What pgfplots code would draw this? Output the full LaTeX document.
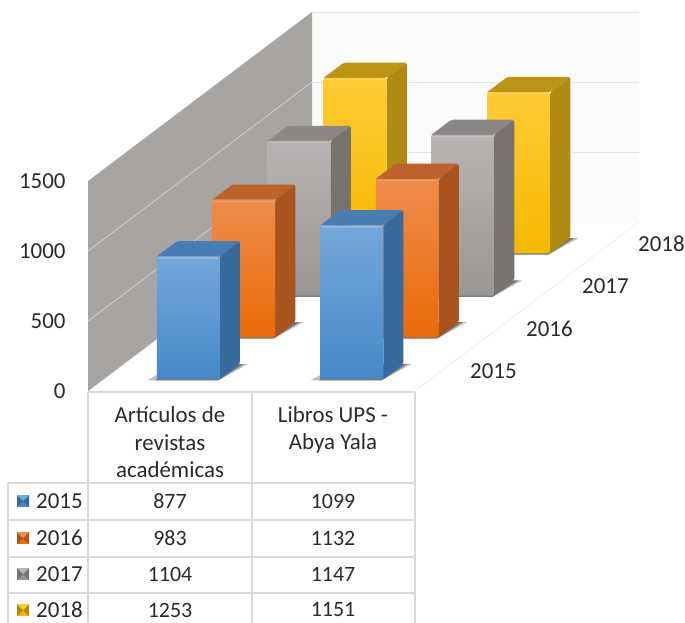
\documentclass[border=0pt]{standalone}
\usepackage{fontspec}
\setmainfont{Carlito}
\usepackage{pgfplots}
\pgfplotsset{compat=1.18}
\definecolor{cAa}{HTML}{75A7DA}\definecolor{cAb}{HTML}{4688CA}\definecolor{cAs}{HTML}{376A9F}\definecolor{cAt}{HTML}{4A7CB4}
\definecolor{cBa}{HTML}{EF8C4C}\definecolor{cBb}{HTML}{EA6A08}\definecolor{cBs}{HTML}{A9541E}\definecolor{cBt}{HTML}{BE622C}
\definecolor{cCa}{HTML}{B7B4B3}\definecolor{cCb}{HTML}{999694}\definecolor{cCs}{HTML}{777371}\definecolor{cCt}{HTML}{8B8785}
\definecolor{cDa}{HTML}{FFCB35}\definecolor{cDb}{HTML}{F6B800}\definecolor{cDs}{HTML}{B08A12}\definecolor{cDt}{HTML}{BB9416}
\definecolor{wallL}{HTML}{A7A4A2}\definecolor{wallB}{HTML}{FBFBFB}\definecolor{gridc}{HTML}{E6E6E6}\definecolor{tabc}{HTML}{D9D9D9}\definecolor{txt}{HTML}{2A2A2A}
\newcommand{\lbl}{\fontsize{23}{26}\selectfont\color{txt}}
\newcommand{\lblb}{\fontsize{22}{26}\selectfont\color{txt}}
% #1 left x, #2 front y, #3 value, #4 colour prefix
\newcommand{\barbox}[4]{%
  \pgfmathsetmacro{\xb}{#1+0.385}\pgfmathsetmacro{\yb}{#2+0.36}%
  \pgfmathsetmacro{\xs}{#1-0.05}\pgfmathsetmacro{\ys}{#2-0.03}\pgfmathsetmacro{\xe}{\xb+0.05}%
  \pgfmathsetmacro{\xh}{#1+0.01}\pgfmathsetmacro{\xi}{\xb-0.01}\pgfmathsetmacro{\vh}{#3-12}%
  \addplot3[draw=none,fill=black!70,fill opacity=0.35,forget plot] coordinates {(\xs,\ys,0) (\xb,\ys,0) (\xe,\yb,0) (#1,\yb,0) (\xs,\ys,0)};
  \addplot3[draw=none,fill=black!70,fill opacity=0.6,forget plot] coordinates {(#1,\ys,0) (\xb,\ys,0) (\xb+0.025,\yb,0) (#1,\yb,0) (#1,\ys,0)};
  \addplot3[draw=none,fill=#4t,rounded corners=2bp,forget plot] coordinates {(#1,#2,#3) (\xb,#2,#3) (\xb,\yb,#3) (#1,\yb,#3) (#1,#2,#3)};
  \addplot3[draw=none,fill=#4s,rounded corners=2bp,forget plot] coordinates {(\xb,#2,0) (\xb,\yb,0) (\xb,\yb,#3) (\xb,#2,#3) (\xb,#2,0)};
  \addplot3[draw=none,top color=#4a,bottom color=#4b,rounded corners=1.5bp,forget plot] coordinates {(#1,#2,0) (\xb,#2,0) (\xb,#2,#3) (#1,#2,#3) (#1,#2,0)};
  \addplot3[#4a!65!white,line width=1.2bp,opacity=0.55,forget plot] coordinates {(\xh,#2,\vh) (\xi,#2,\vh)};
}
\begin{document}
\begin{tikzpicture}[x=1bp,y=-1bp]
\path[use as bounding box] (0,0) rectangle (685,623);
\begin{axis}[
  at={(88bp,-391bp)},anchor=origin,
  x={(163.5bp,0bp)},y={(56bp,42.25bp)},z={(0bp,0.14bp)},
  xmin=0,xmax=2,ymin=0,ymax=4,zmin=0,zmax=1500,
  clip=false,
  axis line style={draw=none},
  tick style={draw=none},
  xtick=\empty,
  ytick=\empty,
  ztick={0,500,1000,1500},
  ztick pos=left,zticklabel pos=left,
  /pgf/number format/assume math mode=true,
  /pgf/number format/1000 sep={},
  ticklabel style={font=\lbl},
  zticklabel style={anchor=east,xshift=-19bp},
]
% floor
\addplot3[draw=gridc,fill=white,forget plot] coordinates {(0,0,0) (2,0,0) (2,4,0) (0,4,0) (0,0,0)};
% back wall
\addplot3[draw=none,fill=wallB,forget plot] coordinates {(0,4,0) (2,4,0) (2,4,1500) (0,4,1500) (0,4,0)};
\addplot3[gridc,forget plot] coordinates {(0,4,500) (2,4,500)};
\addplot3[gridc,forget plot] coordinates {(0,4,1000) (2,4,1000)};
\addplot3[gridc,forget plot] coordinates {(0,4,1500) (2,4,1500)};
% left wall
\addplot3[draw=none,fill=wallL,forget plot] coordinates {(0,0,0) (0,4,0) (0,4,1500) (0,0,1500) (0,0,0)};
\addplot3[gridc,forget plot] coordinates {(0,0,500) (0,4,500)};
\addplot3[gridc,forget plot] coordinates {(0,0,1000) (0,4,1000)};
% bars, back to front
\barbox{0.325}{3.26}{1253}{cD}\barbox{1.325}{3.26}{1151}{cD}
\barbox{0.325}{2.26}{1104}{cC}\barbox{1.325}{2.26}{1147}{cC}
\barbox{0.325}{1.27}{983}{cB}\barbox{1.325}{1.27}{1132}{cB}
\barbox{0.325}{0.28}{877}{cA}\barbox{1.325}{0.28}{1099}{cA}
% depth axis labels
\node[font=\lbl,anchor=west,inner sep=0pt,xshift=27bp,yshift=-1bp] at (axis cs:2,0.5,0) {2015};
\node[font=\lbl,anchor=west,inner sep=0pt,xshift=27bp,yshift=-1bp] at (axis cs:2,1.5,0) {2016};
\node[font=\lbl,anchor=west,inner sep=0pt,xshift=27bp,yshift=-1bp] at (axis cs:2,2.5,0) {2017};
\node[font=\lbl,anchor=west,inner sep=0pt,xshift=27bp,yshift=-1bp] at (axis cs:2,3.5,0) {2018};
\end{axis}
% data table
\draw[tabc,line width=1.6bp] (88,392)--(415,392) (8,483)--(415,483) (8,520)--(415,520) (8,557)--(415,557) (8,593)--(415,593)
  (88,392)--(88,623) (252,392)--(252,623) (415,392)--(415,623) (8,483)--(8,623);
\foreach \y/\t in {415/Artículos de,443/revistas,470/académicas}{\node[font=\lbl] at (170,\y) {\t};}
\foreach \y/\t in {415/Libros UPS -,443/Abya Yala}{\node[font=\lbl] at (333,\y) {\t};}
\foreach \y/\yr/\a/\b/\c in {501/2015/877/1099/cA,538/2016/983/1132/cB,574/2017/1104/1147/cC,610/2018/1253/1151/cD}{
  \node[font=\lblb] at (170,\y) {\a};
  \node[font=\lblb] at (333,\y) {\b};
  \node[font=\lbl,anchor=west,inner sep=0pt] at (36,\y) {\yr};
  \fill[\c b] (17,\y-6) rectangle (29,\y+6);
  \fill[\c s] (17,\y-6) -- (23,\y) -- (17,\y+6) -- cycle;
  \fill[\c s] (29,\y-6) -- (23,\y) -- (29,\y+6) -- cycle;
  \fill[\c a] (17,\y-6) -- (29,\y-6) -- (23,\y) -- cycle;
}
\end{tikzpicture}
\end{document}
